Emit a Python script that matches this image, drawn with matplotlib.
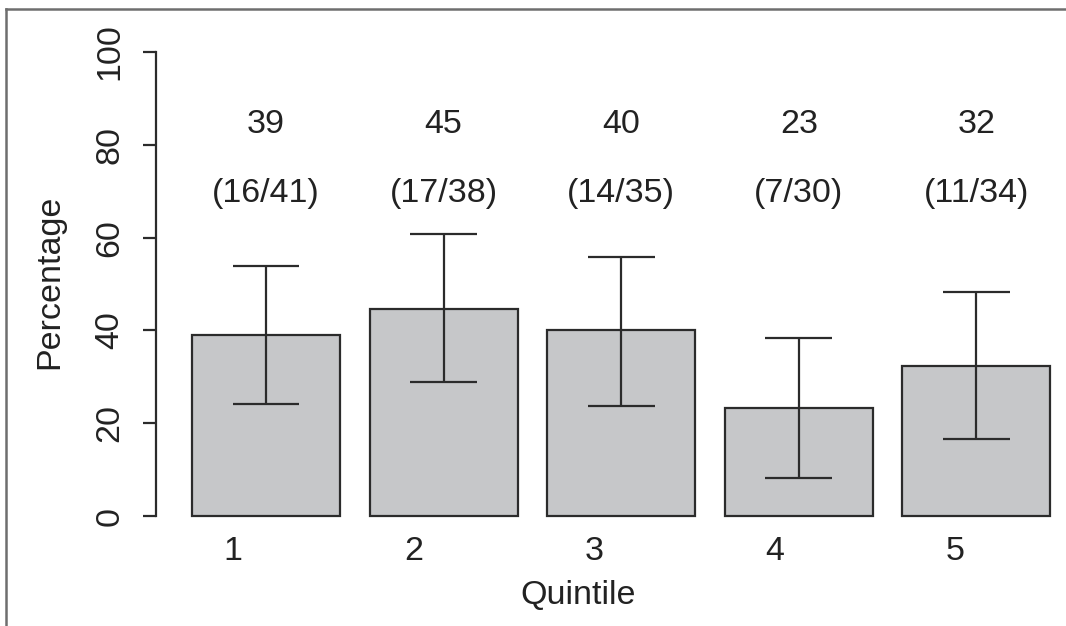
import matplotlib
matplotlib.use("Agg")
import matplotlib.pyplot as plt
from matplotlib.lines import Line2D

# ---- data ----
quintiles = ["1", "2", "3", "4", "5"]
percent = [39.0, 44.7, 40.0, 23.3, 32.4]
ci_low = [24.1, 28.8, 23.6, 8.1, 16.7]
ci_high = [53.9, 60.7, 55.9, 38.3, 48.2]
pct_labels = ["39", "45", "40", "23", "32"]
count_labels = ["(16/41)", "(17/38)", "(14/35)", "(7/30)", "(11/34)"]
yticks = [0, 20, 40, 60, 80, 100]

plt.rcParams["font.family"] = ["Liberation Sans", "DejaVu Sans"]
FS = 24.5
TXT = "#222222"
EDGE = "#2b2b2b"
FILL = "#c6c7c9"
LW = 1.6

W, H = 1066, 626
fig = plt.figure(figsize=(W / 100, H / 100), dpi=100)

def px2fig(x0, y0, x1, y1):
    return [x0 / W, (H - y1) / H, (x1 - x0) / W, (y1 - y0) / H]

ax = fig.add_axes(px2fig(156, 33.44, 1066, 534.56))
ax.set_xlim(-0.0432, 6.1054)
ax.set_ylim(-4, 104)

# R-style barplot positions: width 1, space 0.2
centers = [0.7 + 1.2 * i for i in range(len(quintiles))]
ax.bar(centers, percent, width=1.0, color=FILL, edgecolor=EDGE, linewidth=LW, zorder=2)

cap = 0.226
for c, lo, hi in zip(centers, ci_low, ci_high):
    ax.plot([c, c], [lo, hi], color=EDGE, lw=LW, zorder=3, solid_capstyle="butt")
    ax.plot([c - cap, c + cap], [lo, lo], color=EDGE, lw=LW, zorder=3, solid_capstyle="butt")
    ax.plot([c - cap, c + cap], [hi, hi], color=EDGE, lw=LW, zorder=3, solid_capstyle="butt")

for c, pl, cl in zip(centers, pct_labels, count_labels):
    ax.text(c, 82.5, pl, ha="center", va="baseline", fontsize=FS, color=TXT)
    ax.text(c, 67.7, cl, ha="center", va="baseline", fontsize=FS, color=TXT)

# x labels (offset from bar centres as in reference)
for i, q in enumerate(quintiles):
    ax.text(0.477 + 1.22 * i, -9.4, q, ha="center", va="baseline", fontsize=FS, color=TXT)
ax.text(2.808, -19.0, "Quintile", ha="center", va="baseline", fontsize=FS, color=TXT)

ax.set_xticks([])
for s in ["top", "right", "bottom"]:
    ax.spines[s].set_visible(False)
ax.spines["left"].set_bounds(0, 100)
ax.spines["left"].set_color(EDGE)
ax.spines["left"].set_linewidth(LW)
ax.set_yticks(yticks)
ax.set_yticklabels([str(v) for v in yticks], rotation=90, va="center", fontsize=FS, color=TXT)
ax.tick_params(axis="y", length=9.4, width=LW, color=EDGE, pad=12.5)
ax.set_ylabel("Percentage", fontsize=FS, color=TXT)
ax.yaxis.label.set_va("center")
ax.yaxis.set_label_coords(50 / W, (H - 281.5) / H, transform=fig.transFigure)
ax.patch.set_alpha(0)

# outer frame (top and left)
fig.add_artist(Line2D([5.5 / W, 1.0], [(H - 9) / H, (H - 9) / H], color="#6e6e6e", lw=1.8, transform=fig.transFigure))
fig.add_artist(Line2D([5.5 / W, 5.5 / W], [0, (H - 9) / H], color="#6e6e6e", lw=1.8, transform=fig.transFigure))

fig.savefig("out.png", dpi=100)
